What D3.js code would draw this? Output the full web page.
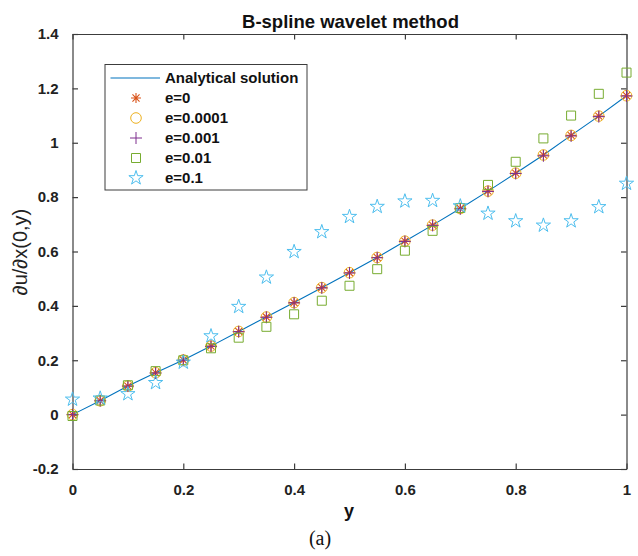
<!DOCTYPE html>
<html>
<head>
<meta charset="utf-8">
<script src="https://cdn.jsdelivr.net/npm/d3@7"></script>
<style>
html,body{margin:0;padding:0;background:#fff;}
svg{display:block;}
</style>
</head>
<body>
<svg id="chart" width="638" height="556"></svg>
<script>
const yGrid = [0,0.05,0.1,0.15,0.2,0.25,0.3,0.35,0.4,0.45,0.5,0.55,0.6,0.65,0.7,0.75,0.8,0.85,0.9,0.95,1];
const analytical = [0,0.051,0.105,0.154,0.201,0.252,0.306,0.359,0.412,0.467,0.522,0.578,0.638,0.697,0.758,0.822,0.888,0.955,1.027,1.098,1.173];
const e0      = [0,0.051,0.105,0.154,0.201,0.252,0.306,0.359,0.412,0.467,0.522,0.578,0.638,0.697,0.758,0.822,0.888,0.955,1.027,1.098,1.173];
const e00001  = [0,0.051,0.105,0.154,0.201,0.252,0.306,0.359,0.412,0.467,0.522,0.578,0.638,0.697,0.758,0.822,0.888,0.955,1.027,1.098,1.173];
const e0001   = [0,0.051,0.105,0.153,0.200,0.251,0.305,0.358,0.411,0.466,0.521,0.577,0.637,0.696,0.757,0.821,0.887,0.952,1.025,1.096,1.172];
const e001    = [-0.005,0.052,0.108,0.160,0.200,0.244,0.283,0.323,0.369,0.419,0.474,0.535,0.603,0.676,0.760,0.845,0.930,1.016,1.100,1.180,1.258];
const e01     = [0.056,0.060,0.076,0.117,0.192,0.289,0.397,0.505,0.599,0.672,0.728,0.765,0.785,0.787,0.767,0.740,0.712,0.696,0.712,0.764,0.850];
const xTicks = [0,0.2,0.4,0.6,0.8,1];
const xTickLabels = ["0","0.2","0.4","0.6","0.8","1"];
const yTicks = [-0.2,0,0.2,0.4,0.6,0.8,1,1.2,1.4];
const yTickLabels = ["-0.2","0","0.2","0.4","0.6","0.8","1","1.2","1.4"];
const legendLabels = ["Analytical solution","e=0","e=0.0001","e=0.001","e=0.01","e=0.1"];

const svg = d3.select("#chart");
const L = 72.5, R = 626.5, T = 34, B = 469;
const x = d3.scaleLinear().domain([0,1]).range([L,R]);
const y = d3.scaleLinear().domain([-0.2,1.4]).range([B,T]);
const axisColor = "#3c3c3c";
const font = "'Liberation Sans', Arial, sans-serif";

// axes
const gx = svg.append("g").attr("transform",`translate(0,${B})`)
  .call(d3.axisBottom(x).tickValues(xTicks).tickFormat((d,i)=>xTickLabels[i]).tickSizeInner(-5.5).tickSizeOuter(0).tickPadding(15));
const gxt = svg.append("g").attr("transform",`translate(0,${T})`)
  .call(d3.axisTop(x).tickValues(xTicks).tickFormat("").tickSizeInner(-5.5).tickSizeOuter(0));
const gy = svg.append("g").attr("transform",`translate(${L},0)`)
  .call(d3.axisLeft(y).tickValues(yTicks).tickFormat((d,i)=>yTickLabels[i]).tickSizeInner(-5.5).tickSizeOuter(0).tickPadding(14));
const gyr = svg.append("g").attr("transform",`translate(${R},0)`)
  .call(d3.axisRight(y).tickValues(yTicks).tickFormat("").tickSizeInner(-5.5).tickSizeOuter(0));
[gx,gxt,gy,gyr].forEach(g=>{
  g.select(".domain").attr("stroke",axisColor).attr("stroke-width",1.2);
  g.selectAll(".tick line").attr("stroke",axisColor).attr("stroke-width",1.2);
  g.selectAll(".tick text").attr("fill","#222").style("font-family",font).style("font-size","15px").style("font-weight","bold");
});

// analytical line
svg.append("path")
  .datum(yGrid.map((v,i)=>[v,analytical[i]]))
  .attr("fill","none").attr("stroke","#0072BD").attr("stroke-width",1.1)
  .attr("d", d3.line().x(d=>x(d[0])).y(d=>y(d[1])));

function asterisk(s){ const a=s, b=s*0.707; return `M${-a},0L${a},0M0,${-a}L0,${a}M${-b},${-b}L${b},${b}M${-b},${b}L${b},${-b}`; }
function plus(s){ return `M${-s},0L${s},0M0,${-s}L0,${s}`; }
const markers = [
  {vals:e0, color:"#D95319", path:()=>asterisk(5), w:1.1},
  {vals:e00001, color:"#EDB120", path:()=>d3.symbol(d3.symbolCircle, Math.PI*5.3*5.3)(), w:1},
  {vals:e0001, color:"#7E2F8E", path:()=>plus(6), w:1},
  {vals:e001, color:"#77AC30", path:()=>d3.symbol(d3.symbolSquare, 9*9)(), w:1},
  {vals:e01, color:"#4DBEEE", path:()=>d3.symbol(d3.symbolStar, 7.5*7.5/0.8908)(), w:1}
];
markers.forEach(m=>{
  svg.append("g").selectAll("path").data(yGrid.map((v,i)=>[v,m.vals[i]])).join("path")
    .attr("transform",d=>`translate(${x(d[0])},${y(d[1])})`)
    .attr("d",m.path()).attr("fill","none").attr("stroke",m.color).attr("stroke-width",m.w);
});

// legend
const lg = svg.append("g");
lg.append("rect").attr("x",105).attr("y",64.5).attr("width",202).attr("height",125.5)
  .attr("fill","#fff").attr("stroke",axisColor).attr("stroke-width",1);
const rowY = [78,98,118,138,158,178];
lg.append("line").attr("x1",110.5).attr("x2",160).attr("y1",rowY[0]).attr("y2",rowY[0])
  .attr("stroke","#0072BD").attr("stroke-width",1.1);
markers.forEach((m,i)=>{
  lg.append("path").attr("transform",`translate(136,${rowY[i+1]})`).attr("d",m.path())
    .attr("fill","none").attr("stroke",m.color).attr("stroke-width",m.w);
});
legendLabels.forEach((t,i)=>{
  lg.append("text").attr("x",165).attr("y",rowY[i]).attr("dy","0.35em")
    .style("font-family",font).style("font-size","15px").style("font-weight","bold").attr("fill","#111").text(t);
});

// title & labels
svg.append("text").attr("x",350.5).attr("y",27.5).attr("text-anchor","middle")
  .style("font-family",font).style("font-size","18.5px").style("font-weight","bold").attr("fill","#111")
  .text("B-spline wavelet method");
svg.append("text").attr("transform","translate(27,252) rotate(-90)").attr("text-anchor","middle")
  .style("font-family",font).style("font-size","20px").attr("fill","#222")
  .text("∂u/∂x(0,y)");
svg.append("text").attr("x",349).attr("y",517).attr("text-anchor","middle")
  .style("font-family",font).style("font-size","18px").style("font-weight","bold").attr("fill","#111")
  .text("y");
svg.append("text").attr("x",320).attr("y",545).attr("text-anchor","middle")
  .style("font-family","'Liberation Serif','Times New Roman',serif").style("font-size","20px").attr("fill","#111")
  .text("(a)");
</script>
</body>
</html>
